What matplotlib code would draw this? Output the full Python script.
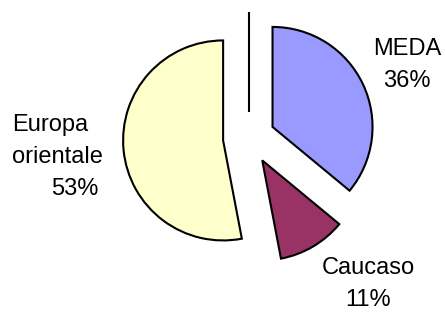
import matplotlib
matplotlib.use("Agg")
import matplotlib.pyplot as plt

categories = ["MEDA", "Caucaso", "Europa\norientale", ""]
values = [36, 11, 53, 0]
colors = ["#9999FF", "#993366", "#FFFFCC", "#FFFFFF"]
pct_labels = ["36%", "11%", "53%"]

plt.rcParams['font.family'] = ['Liberation Sans', 'DejaVu Sans']

fig = plt.figure(figsize=(4.45, 3.13), dpi=100)
ax = fig.add_axes([0, 0, 1, 1])
ax.pie(values, colors=colors, startangle=90, counterclock=False,
       explode=[0.26] * len(values), radius=1.0,
       wedgeprops=dict(edgecolor="black", linewidth=1.5))
# pie centre at (249, 138) px, 100 px per unit
ax.set_xlim(-2.49, 1.96)
ax.set_ylim(-1.75, 1.38)
ax.set_aspect('auto')
ax.axis('off')

fs = 17
ls = 1.55
ax.text(1.58, 0.73, categories[0] + "\n" + pct_labels[0], ha='center', va='center',
        fontsize=fs, linespacing=ls)
ax.text(1.19, -1.46, categories[1] + "\n" + pct_labels[1], ha='center', va='center',
        fontsize=fs, linespacing=ls)
ax.text(-2.37, -0.03, categories[2], ha='left', va='center',
        multialignment='left', fontsize=fs, linespacing=ls)
ax.text(-1.51, -0.51, pct_labels[2], ha='right', va='center',
        fontsize=fs)

fig.savefig("out.png", dpi=100)
